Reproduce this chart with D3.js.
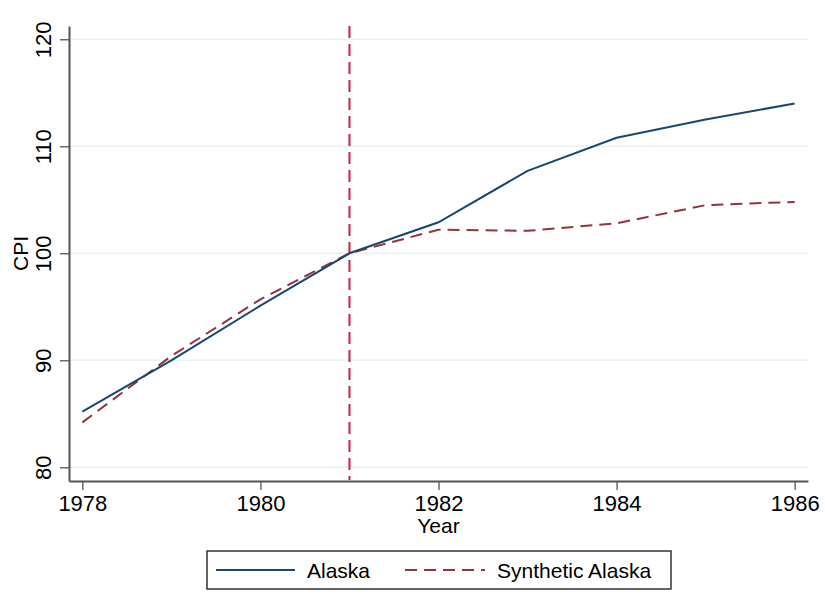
<!DOCTYPE html>
<html>
<head>
<meta charset="utf-8">
<script src="https://cdn.jsdelivr.net/npm/d3@7/dist/d3.min.js"></script>
<style>
  html, body { margin: 0; padding: 0; background: #fff; }
  svg { display: block; font-family: "Liberation Sans", Arial, Helvetica, sans-serif; }
</style>
</head>
<body>
<svg id="chart" width="825" height="597"></svg>
<script>
// CPI, Alaska vs. synthetic control, 1978-1986
const years = [1978, 1979, 1980, 1981, 1982, 1983, 1984, 1985, 1986];
const alaska = [85.2, 90.0, 95.1, 100.0, 102.9, 107.7, 110.8, 112.5, 114.0];
const synthetic = [84.2, 90.4, 95.7, 100.0, 102.2, 102.1, 102.8, 104.5, 104.8];
const treatmentYear = 1981;
const yTicks = [80, 90, 100, 110, 120];
const xTicks = [1978, 1980, 1982, 1984, 1986];
const seriesNames = ["Alaska", "Synthetic Alaska"];

const svg = d3.select("#chart");

const x = d3.scaleLinear().domain([1977.85, 1986.15]).range([69, 808]);
const y = d3.scaleLinear().domain([78.72, 121.24]).range([481, 26]);

const axisColor = "#555";
const navy = "#1a476f";
const maroon = "#90353b";
const vlineColor = "#cc1f45";

// horizontal gridlines
svg.append("g")
  .selectAll("line")
  .data(yTicks)
  .join("line")
  .attr("x1", 70).attr("x2", 808)
  .attr("y1", d => y(d)).attr("y2", d => y(d))
  .attr("stroke", "#eaf1f4")
  .attr("stroke-width", 1.5);

// axes
const yAxis = svg.append("g")
  .attr("transform", "translate(69,0)")
  .call(d3.axisLeft(y).tickValues(yTicks).tickSize(9).tickSizeOuter(0).tickPadding(0));
yAxis.select(".domain").attr("stroke", axisColor).attr("stroke-width", 2);
yAxis.selectAll(".tick line").attr("stroke", axisColor).attr("stroke-width", 1.3);
yAxis.selectAll(".tick text")
  .attr("font-size", 22)
  .attr("fill", "#000")
  .attr("text-anchor", "middle")
  .attr("x", 0).attr("dy", 0)
  .attr("transform", "translate(-18,0) rotate(-90)");

const xAxis = svg.append("g")
  .attr("transform", "translate(0,481)")
  .call(d3.axisBottom(x).tickValues(xTicks).tickFormat(d3.format("d")).tickSize(9).tickSizeOuter(0));
xAxis.select(".domain").attr("stroke", axisColor).attr("stroke-width", 2);
xAxis.selectAll(".tick line").attr("stroke", axisColor).attr("stroke-width", 1.3);
xAxis.selectAll(".tick text")
  .attr("font-size", 22)
  .attr("fill", "#000")
  .attr("y", 30).attr("dy", 0);

// axis titles
svg.append("text")
  .attr("transform", `translate(28,${(26 + 481) / 2}) rotate(-90)`)
  .attr("text-anchor", "middle")
  .attr("font-size", 21)
  .text("CPI");
svg.append("text")
  .attr("x", (69 + 808) / 2).attr("y", 533)
  .attr("text-anchor", "middle")
  .attr("font-size", 21)
  .text("Year");

// treatment year marker
svg.append("line")
  .attr("x1", x(treatmentYear)).attr("x2", x(treatmentYear))
  .attr("y1", 26).attr("y2", 480)
  .attr("stroke", vlineColor)
  .attr("stroke-width", 2)
  .attr("stroke-dasharray", "12,6");

const line = d3.line().x((d, i) => x(years[i])).y(d => y(d));

svg.append("path")
  .datum(synthetic)
  .attr("d", line)
  .attr("fill", "none")
  .attr("stroke", maroon)
  .attr("stroke-width", 2)
  .attr("stroke-dasharray", "12,7");

svg.append("path")
  .datum(alaska)
  .attr("d", line)
  .attr("fill", "none")
  .attr("stroke", navy)
  .attr("stroke-width", 2);

// legend
const legend = svg.append("g");
legend.append("rect")
  .attr("x", 207).attr("y", 551)
  .attr("width", 464).attr("height", 38)
  .attr("fill", "#fff")
  .attr("stroke", "#333")
  .attr("stroke-width", 1.5);
const legendItems = [
  { name: seriesNames[0], color: navy, dash: null, x0: 216, x1: 295, tx: 307 },
  { name: seriesNames[1], color: maroon, dash: "12,7", x0: 405, x1: 485, tx: 497 }
];
legendItems.forEach(it => {
  legend.append("line")
    .attr("x1", it.x0).attr("x2", it.x1)
    .attr("y1", 570).attr("y2", 570)
    .attr("stroke", it.color)
    .attr("stroke-width", 2)
    .attr("stroke-dasharray", it.dash);
  legend.append("text")
    .attr("x", it.tx).attr("y", 578)
    .attr("font-size", 21)
    .text(it.name);
});
</script>
</body>
</html>
